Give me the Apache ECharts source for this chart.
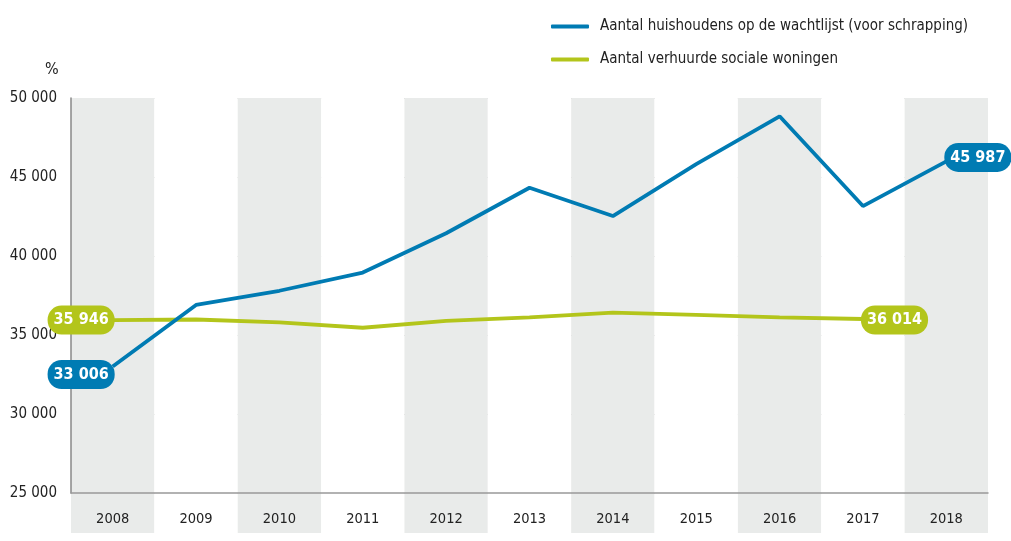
<!DOCTYPE html>
<html lang="nl">
<head>
    <meta charset="UTF-8">
    <title>Wachtlijst sociale woningen</title>
    <style>
        *{ margin: 0; padding: 0; }
        #chart{ width: 1011px; height: 541px; }
    </style>
</head>
<body>
    <div id="chart"></div>
    <script src="https://cdn.jsdelivr.net/npm/echarts@6/dist/echarts.min.js"></script>
    <script>
        var years = ['2008', '2009', '2010', '2011', '2012', '2013', '2014', '2015', '2016', '2017', '2018'];
        var wachtlijst = [33006, 36900, 37800, 38950, 41440, 44320, 42530, 45820, 48840, 43160, 45987];
        var verhuurd = [35946, 35980, 35800, 35460, 35890, 36120, 36410, 36270, 36120, 36014, null];
        var yTicks = [25000, 30000, 35000, 40000, 45000, 50000];

        var font = "'DejaVu Sans Condensed', 'Liberation Sans Narrow', sans-serif";
        var blue = '#007bb3';
        var green = '#b3c51b';

        function fmt(v){
            return String(v).replace(/\B(?=(\d{3})+(?!\d))/g, ' ');
        }

        // labels: index -> [position, offset]
        function withLabels(values, color, marks){
            return values.map(function(v, i){
                if (v == null || !marks[i]) return v;
                return {
                    value: v,
                    label: {
                        show: true,
                        position: marks[i][0],
                        distance: -2,
                        offset: marks[i][1],
                        formatter: function(p){ return fmt(p.value); },
                        color: '#fff',
                        fontFamily: font,
                        fontWeight: 'bold',
                        fontSize: 16,
                        backgroundColor: color,
                        borderRadius: 14,
                        padding: [7, 6, 6, 6]
                    }
                };
            });
        }

        var chart = echarts.init(document.getElementById('chart'));
        chart.setOption({
            animation: false,
            title: {
                text: '%',
                left: 40,
                top: 57,
                textStyle: { fontFamily: font, fontSize: 16, fontWeight: 'normal', color: '#222' }
            },
            legend: {
                orient: 'vertical',
                left: 546,
                top: 14,
                itemGap: 18,
                itemWidth: 38,
                itemHeight: 4,
                icon: 'roundRect',
                textStyle: { fontFamily: font, fontSize: 15, color: '#222', padding: [0, 0, 0, 6] },
                data: ['Aantal huishoudens op de wachtlijst (voor schrapping)', 'Aantal verhuurde sociale woningen']
            },
            grid: [
                { left: 71, right: 23, top: 98, bottom: 48 },
                { left: 71, right: 23, top: 493, height: 40 }
            ],
            xAxis: [{
                type: 'category',
                data: years,
                gridIndex: 0,
                axisLine: { lineStyle: { color: '#999', width: 1.5 } },
                axisTick: { show: false },
                axisLabel: { show: false },
                splitArea: { show: true, areaStyle: { color: ['#e9ebea', '#ffffff'] } }
            }, {
                type: 'category',
                data: years,
                gridIndex: 1,
                position: 'top',
                axisLine: { show: false },
                axisTick: { show: false },
                axisLabel: {
                    inside: true,
                    margin: 19,
                    fontFamily: font,
                    fontSize: 14.5,
                    color: '#222'
                },
                splitArea: { show: true, areaStyle: { color: ['#e9ebea', '#ffffff'] } }
            }],
            yAxis: [{
                type: 'value',
                gridIndex: 0,
                min: yTicks[0],
                max: yTicks[yTicks.length - 1],
                interval: 5000,
                axisLine: { show: true, lineStyle: { color: '#888', width: 1.5 } },
                axisTick: { show: false },
                axisLabel: {
                    margin: 14,
                    fontFamily: font,
                    fontSize: 15,
                    color: '#222',
                    formatter: fmt
                },
                splitLine: { lineStyle: { color: '#c4c4c4', width: 1 } }
            }, {
                type: 'value',
                gridIndex: 1,
                show: false
            }],
            series: [{
                name: 'Aantal huishoudens op de wachtlijst (voor schrapping)',
                type: 'line',
                data: withLabels(wachtlijst, blue, { 0: ['left', [0, 8]], 10: ['right', [0, -4]] }),
                color: blue,
                symbol: 'circle',
                symbolSize: 0,
                lineStyle: { width: 3.8, color: blue },
                z: 3
            }, {
                name: 'Aantal verhuurde sociale woningen',
                type: 'line',
                data: withLabels(verhuurd, green, { 0: ['left', [0, 0]], 9: ['right', [0, 1]] }),
                color: green,
                symbol: 'circle',
                symbolSize: 0,
                lineStyle: { width: 3.8, color: green },
                z: 2
            }]
        });
    </script>
</body>
</html>
